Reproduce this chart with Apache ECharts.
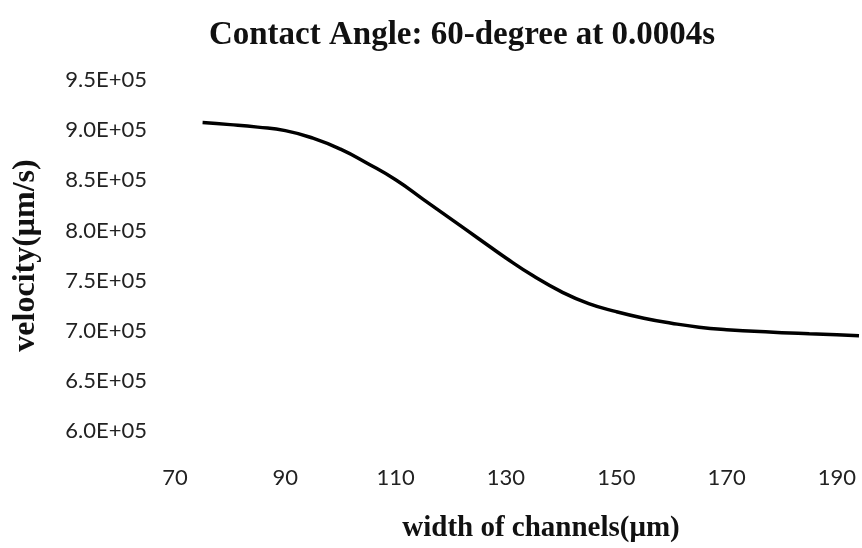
<!DOCTYPE html>
<html>
<head>
<meta charset="utf-8">
<script src="https://cdn.jsdelivr.net/npm/echarts@6/dist/echarts.min.js"></script>
<style>html,body{margin:0;padding:0;background:#fff}#c{width:862px;height:548px}</style>
</head>
<body>
<div id="c"></div>
<script>
const titleText = 'Contact Angle: 60-degree at 0.0004s';
const xName = 'width of channels(μm)';
const yName = 'velocity(μm/s)';
const widths = [75, 80, 85, 90, 95, 100, 105, 110, 115, 120, 125, 130, 135, 140, 145, 150, 155, 160, 165, 170, 175, 180, 185, 190, 194];
const velocities = [907500, 905500, 903000, 899500, 892000, 881000, 866500, 850500, 831000, 811500, 792000, 772500, 754500, 739000, 727000, 719000, 712500, 707500, 703500, 701000, 699500, 698000, 697000, 696000, 695000];

const chart = echarts.init(document.getElementById('c'), null, {renderer: 'canvas'});
const serif = '"Liberation Serif", "Times New Roman", serif';
const sans = 'Lato, "Open Sans", sans-serif';
chart.setOption({
  animation: false,
  backgroundColor: '#fff',
  title: {
    text: titleText,
    left: 457,
    textAlign: 'center',
    top: 14,
    textStyle: {fontFamily: serif, fontWeight: 'bold', fontSize: 33, color: '#111'}
  },
  grid: {left: 175, right: 3, top: 80, bottom: 111, containLabel: false},
  xAxis: {
    type: 'value',
    min: 70, max: 194, interval: 20,
    name: xName,
    nameLocation: 'middle',
    nameGap: 83,
    nameTextStyle: {fontFamily: serif, fontWeight: 'bold', fontSize: 29, color: '#111', padding: [0, 0, 0, 48]},
    axisLine: {show: false},
    axisTick: {show: false},
    splitLine: {show: false},
    axisLabel: {showMaxLabel: false, margin: 36, fontFamily: sans, fontSize: 22, color: '#222'}
  },
  yAxis: {
    type: 'value',
    min: 600000, max: 950000, interval: 50000,
    name: yName,
    nameLocation: 'middle',
    nameGap: 133,
    nameTextStyle: {fontFamily: serif, fontWeight: 'bold', fontSize: 32, color: '#111'},
    axisLine: {show: false},
    axisTick: {show: false},
    splitLine: {show: false},
    axisLabel: {margin: 28, fontFamily: sans, fontSize: 22, color: '#222',
      formatter: v => (v / 100000).toFixed(1) + 'E+05'}
  },
  series: [{
    type: 'line',
    data: widths.map((w, i) => [w, velocities[i]]),
    smooth: true,
    showSymbol: false,
    lineStyle: {color: '#000', width: 3.5}
  }]
});
</script>
</body>
</html>
